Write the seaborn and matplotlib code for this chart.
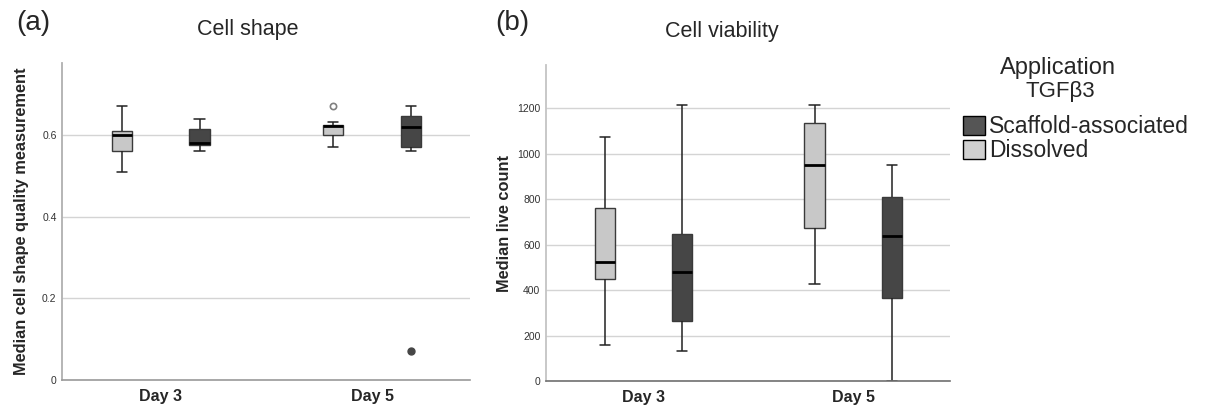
import pandas as pd
import seaborn as sns
import matplotlib.pyplot as plt
from matplotlib.patches import Patch

# Categories
days = ['Day 3', 'Day 5']
groups = ['Dissolved', 'Scaffold-associated']

# Cell shape (whisker low, Q1, median, Q3, whisker high)
shape_d3_dissolved = [0.510, 0.561, 0.600, 0.610, 0.671]
shape_d3_scaffold = [0.561, 0.575, 0.580, 0.616, 0.640]
shape_d5_dissolved = [0.570, 0.600, 0.622, 0.626, 0.632]
shape_d5_scaffold = [0.561, 0.570, 0.621, 0.646, 0.671]
# Cell shape outliers
shape_out_day = ['Day 5', 'Day 5']
shape_out_group = ['Dissolved', 'Scaffold-associated']
shape_out_value = [0.671, 0.070]

# Cell viability (whisker low, Q1, median, Q3, whisker high)
viab_d3_dissolved = [158, 450, 523, 759, 1073]
viab_d3_scaffold = [132, 265, 481, 648, 1212]
viab_d5_dissolved = [426, 674, 951, 1133, 1212]
viab_d5_scaffold = [0, 366, 639, 810, 951]

shape_ticks = [0, 0.2, 0.4, 0.6]
shape_tick_labels = ['0', '0.2', '0.4', '0.6']
viab_ticks = [0, 200, 400, 600, 800, 1000, 1200]

palette = {'Dissolved': '#c8c8c8', 'Scaffold-associated': '#464646'}


def long_frame(d3_dis, d3_sca, d5_dis, d5_sca):
    parts = []
    for day, group, vals in [('Day 3', 'Dissolved', d3_dis),
                             ('Day 3', 'Scaffold-associated', d3_sca),
                             ('Day 5', 'Dissolved', d5_dis),
                             ('Day 5', 'Scaffold-associated', d5_sca)]:
        parts.append(pd.DataFrame({'day': day, 'group': group, 'value': vals}))
    return pd.concat(parts, ignore_index=True)


shape_df = long_frame(shape_d3_dissolved, shape_d3_scaffold, shape_d5_dissolved, shape_d5_scaffold)
viab_df = long_frame(viab_d3_dissolved, viab_d3_scaffold, viab_d5_dissolved, viab_d5_scaffold)
out_df = pd.DataFrame({'day': shape_out_day, 'group': shape_out_group, 'value': shape_out_value})

sns.set_style('white')
plt.rcParams['font.family'] = ['Liberation Sans', 'DejaVu Sans']

fig = plt.figure(figsize=(12.05, 4.12), dpi=100)
ax1 = fig.add_axes([0.0515, 0.0777, 0.3385, 0.7695])
ax2 = fig.add_axes([0.4531, 0.0752, 0.3353, 0.7670])


def draw_boxes(ax, df):
    sns.boxplot(data=df, x='day', y='value', hue='group', order=days, hue_order=groups,
                palette=palette, width=0.736, gap=0.74, whis=(0, 100),
                linewidth=1, linecolor='#3a3a3a', showfliers=False,
                medianprops={'color': 'black', 'linewidth': 2},
                whiskerprops={'color': '#222222', 'linewidth': 1.1},
                capprops={'color': '#222222', 'linewidth': 1.1},
                legend=False, ax=ax)


def style_axes(ax, ylabel, ylim, ticks, tick_labels, left_col, bottom_col):
    ax.set_xlim(-0.466, 1.463)
    ax.set_ylim(*ylim)
    ax.set_yticks(ticks)
    ax.set_yticklabels(tick_labels)
    ax.yaxis.grid(True, color='#d4d4d4', linewidth=1)
    ax.xaxis.grid(False)
    ax.set_axisbelow(True)
    for s in ['top', 'right']:
        ax.spines[s].set_visible(False)
    ax.spines['left'].set_color(left_col)
    ax.spines['left'].set_linewidth(1.3)
    ax.spines['bottom'].set_color(bottom_col)
    ax.spines['bottom'].set_linewidth(1.2)
    ax.tick_params(axis='y', length=0, labelsize=7.5, labelcolor='#333333', pad=4)
    ax.tick_params(axis='x', length=0, pad=6.5)
    for lab in ax.get_xticklabels():
        lab.set_fontweight('bold')
        lab.set_fontsize(11.5)
    ax.set_xlabel('')
    ax.set_ylabel(ylabel, fontsize=11.8, fontweight='bold')


# (a) Cell shape
draw_boxes(ax1, shape_df)
sns.pointplot(data=out_df[out_df['group'] == 'Dissolved'], x='day', y='value', hue='group',
              order=days, hue_order=groups, palette=palette, dodge=0.368,
              markers='o', linestyles='none', errorbar=None, legend=False, ax=ax1,
              markerfacecolor='white', markeredgecolor='#808080', markersize=4.5,
              markeredgewidth=1.2)
sns.pointplot(data=out_df[out_df['group'] == 'Scaffold-associated'], x='day', y='value', hue='group',
              order=days, hue_order=groups, palette=palette, dodge=0.368,
              markers='o', linestyles='none', errorbar=None, legend=False, ax=ax1,
              markerfacecolor='#464646', markeredgecolor='#464646', markersize=5,
              markeredgewidth=1)
style_axes(ax1, 'Median cell shape quality measurement', (0, 0.777),
           shape_ticks, shape_tick_labels, '#b0b0b0', '#9a9a9a')
ax1.yaxis.set_label_coords(-0.08, 0.5)

# (b) Cell viability
draw_boxes(ax2, viab_df)
style_axes(ax2, 'Median live count', (0, 1390),
           viab_ticks, [str(t) for t in viab_ticks], '#c4c4c4', '#707070')
ax2.yaxis.set_label_coords(-0.084, 0.5)

# Titles and panel letters
fig.text(33 / 1205, 1 - 23 / 412, '(a)', fontsize=20, ha='center', va='center')
fig.text(248 / 1205, 1 - 29 / 412, 'Cell shape', fontsize=15.5, ha='center', va='center')
fig.text(512 / 1205, 1 - 23 / 412, '(b)', fontsize=20, ha='center', va='center')
fig.text(722 / 1205, 1 - 31 / 412, 'Cell viability', fontsize=15.5, ha='center', va='center')

# Legend
fig.text(1058 / 1205, 1 - 68 / 412, 'Application', fontsize=17, ha='center', va='center')
fig.text(1060 / 1205, 1 - 91 / 412, 'TGF\u03b23', fontsize=16, ha='center', va='center')
handles = [Patch(facecolor='#555555', edgecolor='black', linewidth=1, label='Scaffold-associated'),
           Patch(facecolor='#d0d0d0', edgecolor='black', linewidth=1, label='Dissolved')]
fig.legend(handles=handles, loc='upper left', bbox_to_anchor=(963 / 1205, 1 - 115 / 412),
           frameon=False, fontsize=16.5, handlelength=0.95, handleheight=0.9,
           handletextpad=0.2, labelspacing=0.05, borderpad=0, borderaxespad=0)

fig.savefig('out.png', dpi=100)
